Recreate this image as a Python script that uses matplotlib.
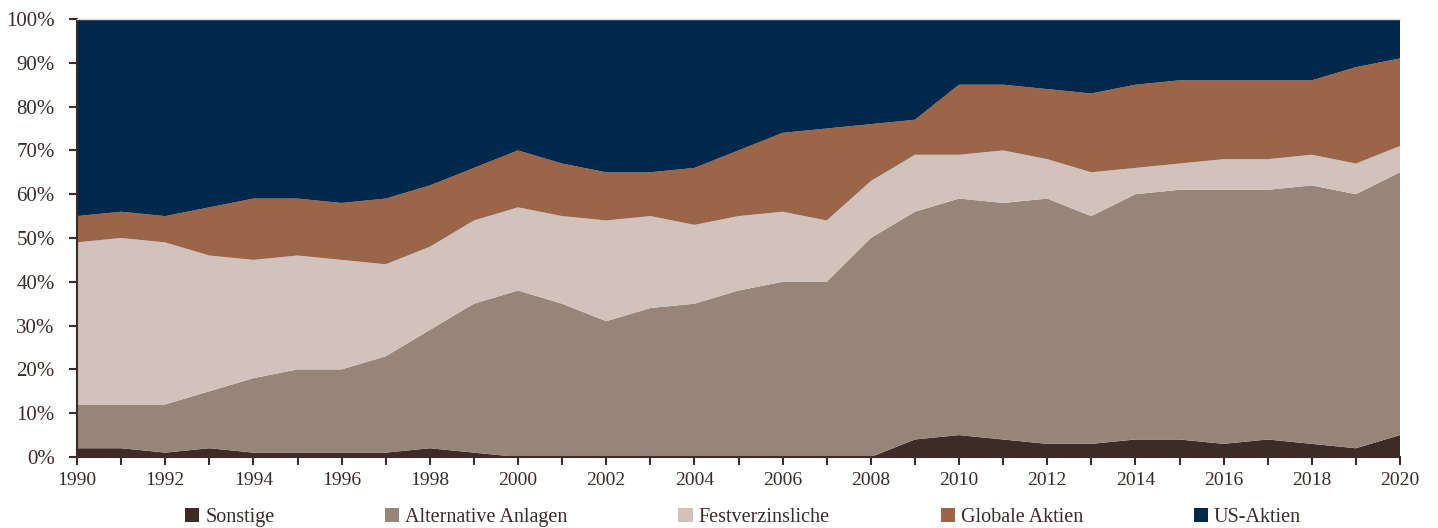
import numpy as np
import matplotlib
matplotlib.use("Agg")
from matplotlib import pyplot as plt
from matplotlib.ticker import FuncFormatter, MultipleLocator

# Werte in Prozent
jahre = list(range(1990, 2021))
sonstige = [2, 2, 1, 2, 1, 1, 1, 1, 2, 1, 0, 0, 0, 0, 0, 0, 0, 0, 0, 4, 5, 4, 3, 3, 4, 4, 3, 4, 3, 2, 5]
alternative = [10, 10, 11, 13, 17, 19, 19, 22, 27, 34, 38, 35, 31, 34, 35, 38, 40, 40, 50, 52, 54, 54, 56, 52, 56, 57, 58, 57, 59, 58, 60]
festverzinsliche = [37, 38, 37, 31, 27, 26, 25, 21, 19, 19, 19, 20, 23, 21, 18, 17, 16, 14, 13, 13, 10, 12, 9, 10, 6, 6, 7, 7, 7, 7, 6]
globale = [6, 6, 6, 11, 14, 13, 13, 15, 14, 12, 13, 12, 11, 10, 13, 15, 18, 21, 13, 8, 16, 15, 16, 18, 19, 19, 18, 18, 17, 22, 20]
us_aktien = [45, 44, 45, 43, 41, 41, 42, 41, 38, 34, 30, 33, 35, 35, 34, 30, 26, 25, 24, 23, 15, 15, 16, 17, 15, 14, 14, 14, 14, 11, 9]

namen = ["Sonstige", "Alternative Anlagen", "Festverzinsliche", "Globale Aktien", "US-Aktien"]
farben = ["#3d2b28", "#968578", "#d1c3bb", "#9b654a", "#00284a"]
dunkel = "#3d2b28"

plt.rcParams['font.family'] = ['Liberation Serif', 'DejaVu Serif']

fig = plt.figure(figsize=(14.38, 5.28), dpi=100)
ax = fig.add_axes([77 / 1438, 1 - 457 / 528, (1400 - 77) / 1438, (457 - 19) / 528])

ax.stackplot(jahre, sonstige, alternative, festverzinsliche, globale, us_aktien,
             colors=farben, labels=namen, linewidth=0)

ax.set_xlim(1990, 2020)
ax.set_ylim(0, 100)
ax.yaxis.set_major_locator(MultipleLocator(10))
ax.yaxis.set_major_formatter(FuncFormatter(lambda v, p: f"{int(v)}%"))
ax.xaxis.set_major_locator(MultipleLocator(2))
ax.xaxis.set_minor_locator(MultipleLocator(1))

for s in ["left", "bottom"]:
    ax.spines[s].set_color(dunkel)
    ax.spines[s].set_linewidth(1.5)
ax.spines["right"].set_visible(False)
ax.spines["top"].set_color("#dddddd")
ax.spines["top"].set_linewidth(1)

ax.tick_params(axis="both", which="both", direction="out", color=dunkel, width=1.5,
               labelcolor=dunkel)
ax.tick_params(axis="y", length=6, pad=10, labelsize=15)
ax.tick_params(axis="x", which="both", length=6, pad=5, labelsize=14)

fig.legend(loc="lower center", bbox_to_anchor=(743 / 1438, -0.014), ncol=5,
           frameon=False, fontsize=14.5, handlelength=0.7, handleheight=0.7,
           handletextpad=0.3, columnspacing=5.5, labelcolor=dunkel, borderaxespad=0)

fig.savefig("out.png", dpi=100)
